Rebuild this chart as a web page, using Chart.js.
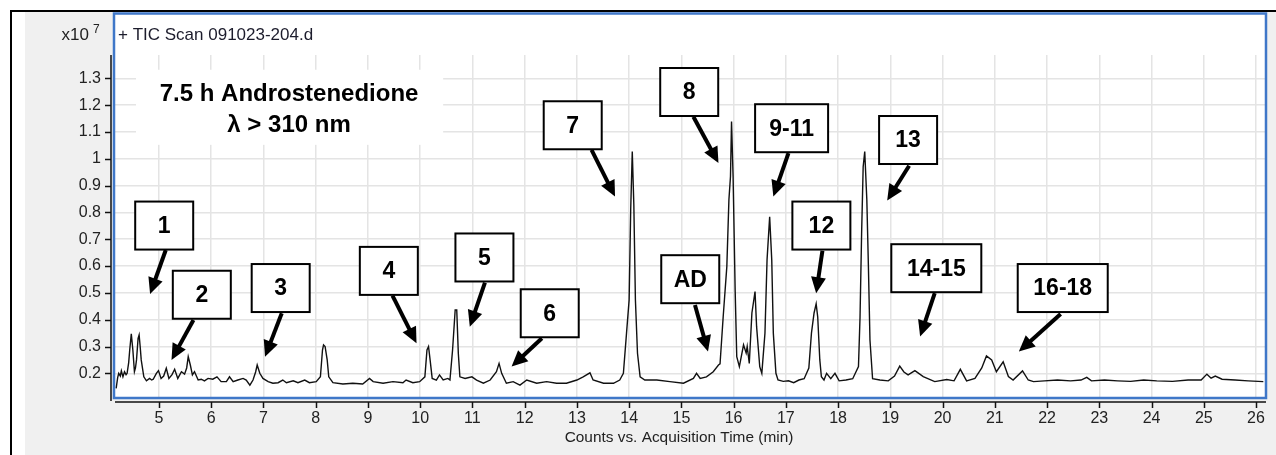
<!DOCTYPE html>
<html>
<head>
<meta charset="utf-8">
<script src="https://cdn.jsdelivr.net/npm/chart.js@4.4.0/dist/chart.umd.min.js"></script>
<style>
html,body{margin:0;padding:0;background:#fff;}
canvas{display:block;}
</style>
</head>
<body>
<canvas id="c" width="1276" height="455"></canvas>
<script>
// ---- DATA (acquisition time in min, counts in units of 10^7) ----
const times = [
 4.18,4.21,4.23,4.26,4.28,4.31,4.34,4.37,4.39,4.42,4.44,4.47,4.50,4.53,4.55,4.57,4.60,4.62,4.64,4.66,
 4.71,4.76,4.82,4.86,4.89,4.95,4.99,5.04,5.09,5.14,5.19,5.25,5.30,5.36,5.43,5.49,5.53,5.56,5.60,5.64,
 5.68,5.75,5.81,5.87,5.94,6.03,6.11,6.19,6.29,6.35,6.42,6.51,6.61,6.67,6.74,6.80,6.85,6.88,6.93,6.99,
 7.09,7.18,7.28,7.37,7.44,7.57,7.66,7.79,7.88,8.01,8.09,8.13,8.15,8.18,8.22,8.25,8.33,8.52,8.71,8.90,
 9.03,9.10,9.29,9.48,9.67,9.73,9.86,9.99,10.09,10.13,10.16,10.19,10.23,10.31,10.37,10.44,10.53,10.57,10.62,10.67,
 10.70,10.73,10.76,10.86,10.99,11.08,11.21,11.34,11.46,11.51,11.56,11.65,11.78,11.91,12.04,12.23,12.42,12.61,12.80,13.00,
 13.12,13.25,13.31,13.51,13.70,13.82,13.89,13.95,14.00,14.03,14.06,14.09,14.12,14.16,14.21,14.30,14.53,14.78,15.04,15.23,
 15.29,15.36,15.48,15.61,15.71,15.74,15.80,15.87,15.91,15.94,15.96,15.99,16.03,16.06,16.11,16.19,16.24,16.26,16.30,16.35,
 16.41,16.44,16.50,16.54,16.60,16.64,16.69,16.73,16.76,16.81,16.85,16.95,17.05,17.15,17.25,17.35,17.44,17.49,17.54,17.58,
 17.61,17.65,17.68,17.73,17.78,17.86,17.94,18.02,18.15,18.28,18.39,18.42,18.45,18.48,18.51,18.55,18.58,18.61,18.66,18.80,
 18.96,19.08,19.18,19.26,19.34,19.47,19.63,19.85,20.08,20.22,20.34,20.46,20.62,20.75,20.84,20.94,21.03,21.16,21.26,21.35,
 21.53,21.64,21.74,21.95,22.20,22.45,22.65,22.76,22.85,23.10,23.35,23.60,23.85,24.10,24.40,24.70,24.95,25.06,25.14,25.22,
 25.35,25.60,25.85,26.14
];
const counts = [
 0.144,0.185,0.200,0.190,0.209,0.187,0.206,0.195,0.200,0.240,0.287,0.347,0.287,0.206,0.220,0.250,0.330,0.343,0.300,0.250,
 0.187,0.172,0.181,0.175,0.178,0.200,0.210,0.181,0.190,0.219,0.181,0.195,0.215,0.181,0.206,0.197,0.220,0.262,0.231,0.194,
 0.206,0.175,0.178,0.172,0.181,0.178,0.187,0.169,0.169,0.187,0.169,0.175,0.181,0.175,0.156,0.175,0.205,0.231,0.200,0.181,
 0.169,0.163,0.165,0.175,0.165,0.172,0.165,0.175,0.165,0.169,0.187,0.287,0.306,0.300,0.250,0.187,0.165,0.160,0.163,0.160,
 0.181,0.169,0.163,0.169,0.165,0.175,0.165,0.169,0.187,0.287,0.300,0.250,0.181,0.175,0.194,0.175,0.181,0.175,0.287,0.436,
 0.436,0.275,0.187,0.181,0.187,0.175,0.163,0.175,0.206,0.237,0.200,0.163,0.169,0.156,0.175,0.163,0.169,0.163,0.163,0.175,
 0.187,0.202,0.175,0.163,0.163,0.175,0.200,0.350,0.474,0.810,1.027,0.828,0.474,0.275,0.187,0.175,0.175,0.169,0.163,0.181,
 0.200,0.181,0.187,0.206,0.231,0.235,0.410,0.598,0.847,0.934,1.139,0.934,0.505,0.262,0.225,0.306,0.276,0.300,0.237,0.425,
 0.505,0.374,0.225,0.200,0.350,0.623,0.784,0.623,0.350,0.200,0.175,0.170,0.172,0.165,0.175,0.180,0.220,0.350,0.425,0.459,
 0.410,0.250,0.187,0.175,0.200,0.180,0.200,0.172,0.175,0.180,0.225,0.410,0.720,0.970,1.027,0.847,0.600,0.324,0.180,0.175,
 0.172,0.190,0.227,0.205,0.194,0.210,0.188,0.169,0.177,0.172,0.215,0.172,0.181,0.220,0.265,0.250,0.206,0.243,0.188,0.175,
 0.209,0.175,0.169,0.172,0.175,0.172,0.175,0.185,0.172,0.175,0.172,0.170,0.175,0.172,0.170,0.175,0.175,0.197,0.182,0.190,
 0.178,0.175,0.172,0.169
];
const xTicks = [5,6,7,8,9,10,11,12,13,14,15,16,17,18,19,20,21,22,23,24,25,26];
const yTicks = [0.2,0.3,0.4,0.5,0.6,0.7,0.8,0.9,1.0,1.1,1.2,1.3];
const peakLabels = ['1','2','3','4','5','6','7','8','AD','9-11','12','13','14-15','16-18'];
const traceName = '+ TIC Scan 091023-204.d';
const sampleTitle = ['7.5 h Androstenedione', 'λ > 310 nm'];
const xAxisTitle = 'Counts vs. Acquisition Time (min)';

// ---- LAYOUT of the callouts (in data units: [time, counts]) ----
const boxCenters = [[5.10,0.751],[5.82,0.493],[7.33,0.518],[9.40,0.582],[11.23,0.632],[12.48,0.424],[12.92,1.125],
  [15.15,1.249],[15.17,0.551],[17.11,1.114],[17.68,0.751],[19.34,1.070],[19.88,0.592],[22.30,0.518]];
const arrowFrom = [[5.13,0.66],[5.66,0.399],[7.35,0.424],[9.47,0.49],[11.24,0.538],[12.33,0.331],[13.28,1.033],
  [15.23,1.157],[15.26,0.455],[17.05,1.021],[17.70,0.657],[19.36,0.974],[19.85,0.499],[22.26,0.421]];
const arrowTo = [[4.83,0.496],[5.24,0.25],[7.03,0.262],[9.93,0.312],[10.95,0.374],[11.75,0.225],[13.73,0.859],
  [15.71,0.984],[15.51,0.281],[16.76,0.859],[17.58,0.499],[18.94,0.844],[19.57,0.337],[21.46,0.281]];

const points = times.map((t,i)=>({x:t, y:counts[i]}));

const FONT = '"Liberation Sans", Arial, sans-serif';

const frame = {
  id:'frame',
  beforeDraw(chart){
    const c = chart.ctx;
    c.save();
    c.fillStyle = '#ffffff'; c.fillRect(0,0,chart.width,chart.height);
    c.fillStyle = '#f0f0f0'; c.fillRect(25,12,chart.width-25,chart.height-12);
    c.fillStyle = '#000'; c.fillRect(10,10,chart.width-10,2); c.fillRect(10,10,2,chart.height-10);
    c.fillStyle = '#ffffff'; c.fillRect(113,12,1154,387);
    c.restore();
  },
  afterDraw(chart){
    const c = chart.ctx, xs = chart.scales.x, ys = chart.scales.y, a = chart.chartArea;
    const px = v=>xs.getPixelForValue(v), py = v=>ys.getPixelForValue(v);
    c.save();
    // blue plot frame
    c.strokeStyle = '#3f77c8'; c.lineWidth = 2.5;
    c.strokeRect(114, 13.5, a.right-114, a.bottom-13.5);
    // axis lines + tick marks
    c.strokeStyle = '#111'; c.lineWidth = 1.5;
    c.beginPath();
    c.moveTo(111, a.top); c.lineTo(111, a.bottom+3);
    c.moveTo(115, 402); c.lineTo(a.right, 402);
    yTicks.forEach(v=>{ const y=Math.round(py(v))+0.5; c.moveTo(105,y); c.lineTo(111,y); });
    xTicks.forEach(v=>{ const x=Math.round(px(v))+0.5; c.moveTo(x,402); c.lineTo(x,408); });
    c.stroke();
    // header texts
    c.fillStyle = '#222'; c.textBaseline = 'alphabetic';
    c.font = '17px ' + FONT; c.textAlign = 'right'; c.fillText('x10', 89, 40);
    c.font = '12px ' + FONT; c.textAlign = 'left'; c.fillText('7', 93, 33);
    c.font = '17px ' + FONT; c.textAlign = 'left'; c.fillStyle = '#1c1c2c'; c.fillText(traceName, 118, 40);
    // x axis title
    c.fillStyle = '#222'; c.font = '15.4px ' + FONT; c.textAlign = 'center'; c.textBaseline = 'middle';
    c.fillText(xAxisTitle, 679, 438);
    // sample title box
    const tx0 = px(4.56), tx1 = px(10.44), ty0 = py(1.332), ty1 = py(1.052);
    c.fillStyle = '#fff'; c.fillRect(tx0, ty0, tx1-tx0, ty1-ty0);
    c.fillStyle = '#000'; c.font = 'bold 24px ' + FONT;
    c.fillText(sampleTitle[0], px(7.49), py(1.24));
    c.fillText(sampleTitle[1], px(7.49), py(1.123));
    // callouts
    peakLabels.forEach((lab,i)=>{
      const x0 = px(arrowFrom[i][0]), y0 = py(arrowFrom[i][1]);
      const x1 = px(arrowTo[i][0]), y1 = py(arrowTo[i][1]);
      const ang = Math.atan2(y1-y0, x1-x0), hl = 16, hw = 7.5;
      const bx = x1 - hl*Math.cos(ang), by = y1 - hl*Math.sin(ang);
      c.strokeStyle = '#000'; c.lineWidth = 4; c.lineCap = 'butt';
      c.beginPath(); c.moveTo(x0,y0); c.lineTo(bx+2*Math.cos(ang), by+2*Math.sin(ang)); c.stroke();
      c.fillStyle = '#000'; c.beginPath();
      c.moveTo(x1,y1);
      c.lineTo(bx + hw*Math.sin(ang), by - hw*Math.cos(ang));
      c.lineTo(bx - hw*Math.sin(ang), by + hw*Math.cos(ang));
      c.closePath(); c.fill();
      const w = lab.length<=2 ? 58 : (lab.length===4 ? 73 : 90), h = 48;
      const cx = px(boxCenters[i][0]), cy = py(boxCenters[i][1]);
      c.fillStyle = '#fff'; c.fillRect(cx-w/2, cy-h/2, w, h);
      c.strokeStyle = '#000'; c.lineWidth = 2; c.strokeRect(cx-w/2, cy-h/2, w, h);
      c.fillStyle = '#000'; c.font = 'bold 23px ' + FONT; c.textAlign='center'; c.textBaseline='middle';
      c.fillText(lab, cx, cy+1);
    });
    c.restore();
  }
};

new Chart(document.getElementById('c'), {
  type: 'line',
  data: { datasets: [{ data: points, borderColor: '#111', borderWidth: 1.4, pointRadius: 0, tension: 0, fill: false }] },
  options: {
    responsive: false, animation: false, devicePixelRatio: 1, events: [],
    layout: { padding: { left: 0, right: 10, top: 55, bottom: 0 } },
    plugins: { legend: { display: false }, tooltip: { enabled: false } },
    scales: {
      x: {
        type: 'linear', min: 4.139, max: 26.191,
        afterBuildTicks: s => { s.ticks = xTicks.map(v=>({value:v})); },
        afterFit: s => { s.height = 57; },
        grid: { color: '#e4e4e4', lineWidth: 1.5, drawTicks: false },
        border: { display: false },
        ticks: { autoSkip: false, maxRotation: 0, padding: 11, color: '#222', font: { family: FONT, size: 16 },
                 callback: v => String(v) }
      },
      y: {
        type: 'linear', min: 0.108, max: 1.387,
        afterBuildTicks: s => { s.ticks = yTicks.map(v=>({value:v})); },
        afterFit: s => { s.width = 114; },
        grid: { color: '#e4e4e4', lineWidth: 1.5, drawTicks: false },
        border: { display: false },
        ticks: { autoSkip: false, padding: 13, color: '#222', font: { family: FONT, size: 16 },
                 callback: v => String(Number(v.toFixed(1))) }
      }
    }
  },
  plugins: [frame]
});
</script>
</body>
</html>
